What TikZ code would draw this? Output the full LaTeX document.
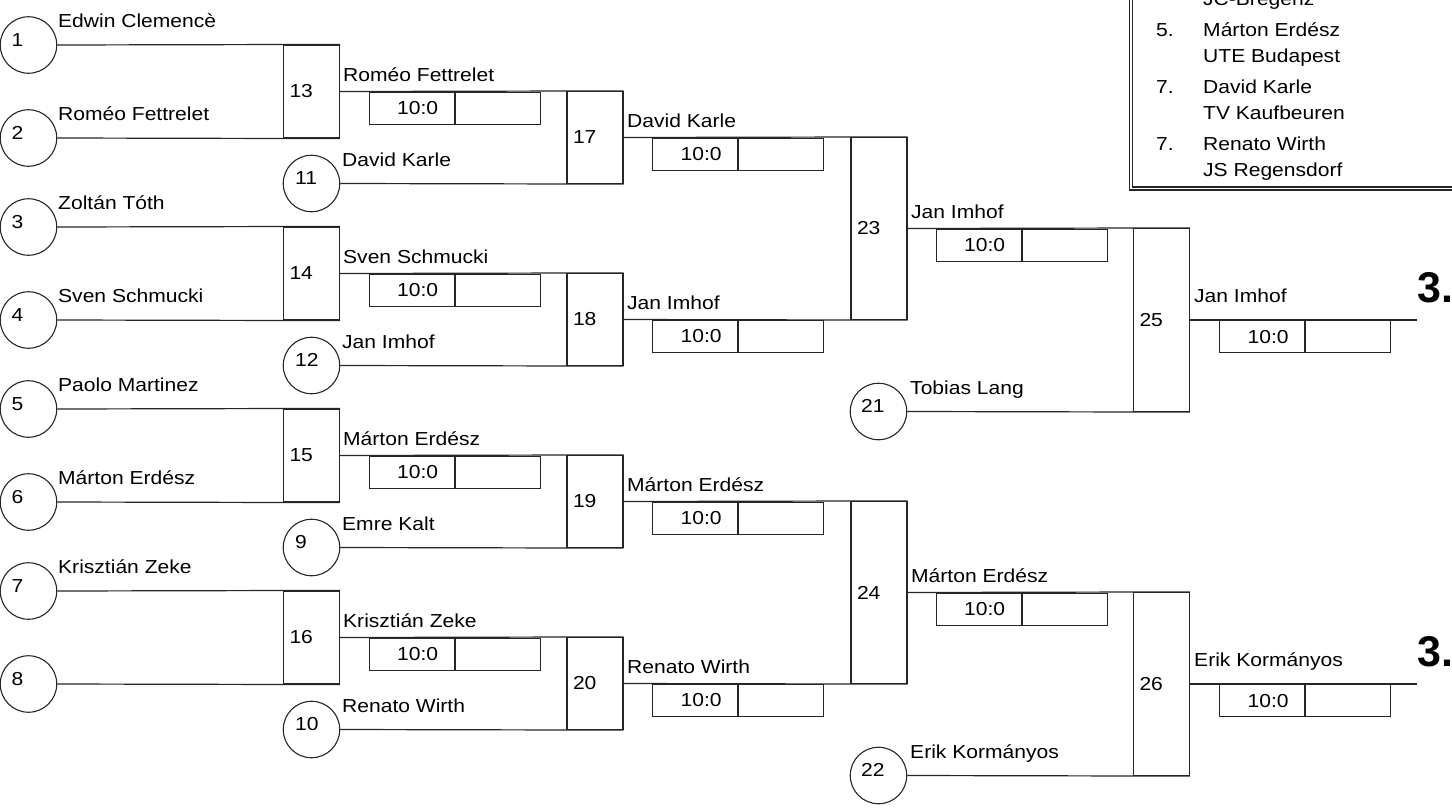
\documentclass[tikz,border=0pt]{standalone}
\usepackage{fontspec}
\newfontfamily\arialf[FakeStretch=1.12]{Liberation Sans}
\newfontfamily\arialbf{Liberation Sans}
\newcommand\txtf{\arialf\fontsize{18.8}{23}\selectfont}
\newcommand\bigf{\arialbf\bfseries\fontsize{43}{50}\selectfont}
\tikzset{
  ln/.style={draw=black!85, line width=1.2pt},
  seed/.style={circle, draw=black!85, line width=1.1pt, minimum size=56.5pt, inner sep=0pt},
  mbox/.style={rectangle, draw=black!85, line width=1.2pt, minimum width=56pt, text width=44pt, inner xsep=6pt, inner ysep=0pt, align=left, font=\txtf},
  cell/.style={rectangle, draw=black!85, line width=1.2pt, minimum width=85pt, minimum height=32pt, text width=53pt, inner xsep=16pt, inner ysep=0pt, align=right, font=\txtf},
  nm/.style={anchor=base west, inner sep=0pt, font=\txtf},
  big/.style={anchor=base west, inner sep=0pt, font=\bigf},
}
% quarter: #1 offset, #2 seed top, #3 name top, #4 seed bottom, #5 name bottom,
% #6 box number, #7 winner, #8 circle number, #9 circle name
\newcommand\quarter[9]{%
  \node[seed] (c#2) at (28.5,45+#1) {};
  \node[nm] (t#2) at (11.5,46+#1) {#2};
  \node[seed] (c#4) at (28.5,138+#1) {};
  \node[nm] (t#4) at (11.5,139+#1) {#4};
  \node[mbox, minimum height=93pt] (m#6) at (311.5,91.5+#1) {#6};
  \draw[ln] (c#2.east) -- (m#6.north east);
  \draw[ln] (c#4.east) -- (m#6.south east);
  \node[nm] (l#2) at (58,27.5+#1) {#3};
  \node[nm] (l#4) at (58,120.5+#1) {#5};
  \node[seed] (c#8) at (311.5,183.5+#1) {};
  \node[nm] (t#8) at (295,184.5+#1) {#8};
  \node[mbox, minimum height=92pt] (m\the\numexpr#6+4\relax) at (595,137.5+#1) {\the\numexpr#6+4\relax};
  \draw[ln] (m#6.east) -- (m\the\numexpr#6+4\relax.north east);
  \draw[ln] (c#8.east) -- (m\the\numexpr#6+4\relax.south east);
  \node[nm] (w#6) at (343,81.5+#1) {#7};
  \node[cell, anchor=north west] (s#6a) at (368.5,91.5+#1) {10:0};
  \node[cell, anchor=north west] (s#6b) at (s#6a.north east) {};
  \node[nm] (l#8) at (342,166+#1) {#9};
}
% semi: #1 offset, #2 box a, #3 winner a, #4 box b, #5 winner b, #6 box c, #7 winner c, #8 circle num, #9 circle name
\newcommand\semi[9]{%
  \node[mbox, minimum height=182pt] (m#6) at (879,228.5+#1) {#6};
  \draw[ln] (m#2.east) -- (m#6.north east);
  \draw[ln] (m#4.east) -- (m#6.south east);
  \node[nm] (w#2) at (627,127.5+#1) {#3};
  \node[cell, anchor=north west] (s#2a) at (652,137.5+#1) {10:0};
  \node[cell, anchor=north west] (s#2b) at (s#2a.north east) {};
  \node[nm] (w#4) at (627,309.5+#1) {#5};
  \node[cell, anchor=north west] (s#4a) at (652,319.5+#1) {10:0};
  \node[cell, anchor=north west] (s#4b) at (s#4a.north east) {};
  \node[seed] (c#8) at (878.5,411.5+#1) {};
  \node[nm] (t#8) at (861,412.5+#1) {#8};
  \node[nm] (l#8) at (910,394+#1) {#9};
  \node[mbox, minimum height=183pt] (m\the\numexpr#6+2\relax) at (1161.5,320+#1) {\the\numexpr#6+2\relax};
  \draw[ln] (m#6.east) -- (m\the\numexpr#6+2\relax.north east);
  \draw[ln] (c#8.east) -- (m\the\numexpr#6+2\relax.south east);
  \node[nm] (w#6) at (911,218.5+#1) {#7};
  \node[cell, anchor=north west] (s#6a) at (935.5,228.5+#1) {10:0};
  \node[cell, anchor=north west] (s#6b) at (s#6a.north east) {};
}
\begin{document}
\begin{tikzpicture}[x=1pt, y=-1pt]
\useasboundingbox (0,0) rectangle (1452,809);
\clip (0,0) rectangle (1452,809);
\fill[white] (0,0) rectangle (1452,809);
% legend frame
\draw[ln] (1129.5,-10) -- (1129.5,190) -- (1470,190);
\draw[ln] (1132.5,-10) -- (1132.5,187) -- (1470,187);
\node[nm] (g0b) at (1203,5.5) {JC-Bregenz};
\node[nm] (g1a) at (1156,36) {5.};
\node[nm] (g1n) at (1203,36) {Márton Erdész};
\node[nm] (g1b) at (1203,62) {UTE Budapest};
\node[nm] (g2a) at (1156,93.5) {7.};
\node[nm] (g2n) at (1203,93.5) {David Karle};
\node[nm] (g2b) at (1203,119.5) {TV Kaufbeuren};
\node[nm] (g3a) at (1156,150) {7.};
\node[nm] (g3n) at (1203,150) {Renato Wirth};
\node[nm] (g3b) at (1203,176) {JS Regensdorf};
% bracket
\quarter{0}{1}{Edwin Clemencè}{2}{Roméo Fettrelet}{13}{Roméo Fettrelet}{11}{David Karle}
\quarter{182}{3}{Zoltán Tóth}{4}{Sven Schmucki}{14}{Sven Schmucki}{12}{Jan Imhof}
\quarter{364}{5}{Paolo Martinez}{6}{Márton Erdész}{15}{Márton Erdész}{9}{Emre Kalt}
\quarter{546}{7}{Krisztián Zeke}{8}{}{16}{Krisztián Zeke}{10}{Renato Wirth}
\semi{0}{17}{David Karle}{18}{Jan Imhof}{23}{Jan Imhof}{21}{Tobias Lang}
\semi{364}{19}{Márton Erdész}{20}{Renato Wirth}{24}{Márton Erdész}{22}{Erik Kormányos}
% finals
\coordinate (f25) at (1417,320);
\draw[ln] (m25.east) -- (f25);
\node[nm] (w25) at (1194,302.5) {Jan Imhof};
\node[cell, anchor=north west] (s25a) at (1219,320) {10:0};
\node[cell, anchor=north west] (s25b) at (s25a.north east) {};
\node[big] (p25) at (1417,302.7) {3.};
\coordinate (f26) at (1417,684);
\draw[ln] (m26.east) -- (f26);
\node[nm] (w26) at (1194,666.5) {Erik Kormányos};
\node[cell, anchor=north west] (s26a) at (1219,684) {10:0};
\node[cell, anchor=north west] (s26b) at (s26a.north east) {};
\node[big] (p26) at (1417,666) {3.};
\end{tikzpicture}
\end{document}
